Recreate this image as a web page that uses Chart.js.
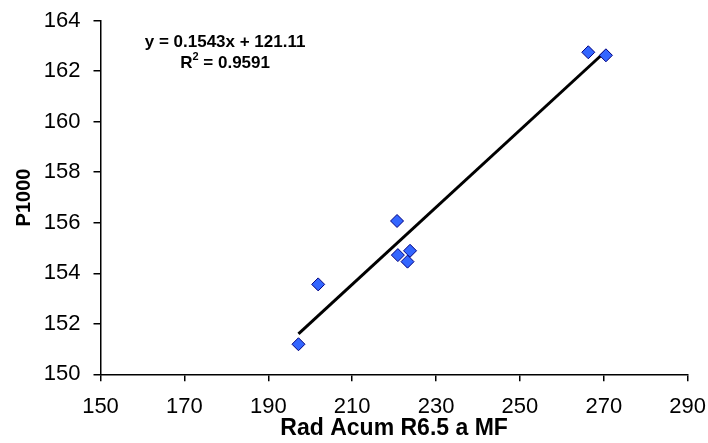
<!DOCTYPE html>
<html>
<head>
<meta charset="utf-8">
<script src="https://cdn.jsdelivr.net/npm/chart.js"></script>
<style>
  body { margin: 0; background: #fff; }
  canvas { display: block; }
</style>
</head>
<body>
<canvas id="scatterChart" width="708" height="443"></canvas>
<script>
  // values
  const radAcum = [197.2, 201.9, 220.7, 220.9, 223.8, 223.2, 266.3, 270.5];
  const p1000 = [151.19, 153.56, 156.07, 154.72, 154.89, 154.46, 162.75, 162.63];

  // linear trendline end points (as drawn)
  const trendX = [197.2, 270.5];
  const trendY = [151.6, 162.8];

  const xTicks = [150, 170, 190, 210, 230, 250, 270, 290];
  const yTicks = [150, 152, 154, 156, 158, 160, 162, 164];

  const eqLine = "y = 0.1543x + 121.11";
  const r2Value = "0.9591";

  const font = "'Liberation Sans', Arial, sans-serif";

  const points = radAcum.map((x, i) => ({ x: x, y: p1000[i] }));
  const trend = trendX.map((x, i) => ({ x: x, y: trendY[i] }));

  // equation label, drawn after the datasets
  const equationLabel = {
    id: "equationLabel",
    afterDraw(chart) {
      const ctx = chart.ctx;
      const xs = chart.scales.x;
      const ys = chart.scales.y;
      const cx = xs.getPixelForValue(179.7);
      ctx.save();
      ctx.fillStyle = "#000";
      ctx.textBaseline = "middle";
      ctx.font = "bold 17px " + font;
      ctx.textAlign = "center";
      ctx.fillText(eqLine, cx, ys.getPixelForValue(163.15));

      // R² with a raised small 2
      const y2 = ys.getPixelForValue(162.32);
      const partR = "R";
      const partRest = " = " + r2Value;
      const wR = ctx.measureText(partR).width;
      const wRest = ctx.measureText(partRest).width;
      ctx.font = "bold 11px " + font;
      const wSup = ctx.measureText("2").width;
      const total = wR + wSup + wRest;
      const x0 = cx - total / 2;
      ctx.textAlign = "left";
      ctx.font = "bold 17px " + font;
      ctx.fillText(partR, x0, y2);
      ctx.font = "bold 11px " + font;
      ctx.fillText("2", x0 + wR, y2 - 6);
      ctx.font = "bold 17px " + font;
      ctx.fillText(partRest, x0 + wR + wSup, y2);
      ctx.restore();
    }
  };

  new Chart(document.getElementById("scatterChart").getContext("2d"), {
    type: "scatter",
    data: {
      datasets: [
        {
          label: "P1000",
          data: points,
          pointStyle: "rectRot",
          pointRadius: 6.5,
          pointHoverRadius: 6.5,
          backgroundColor: "#3366ff",
          borderColor: "#000080",
          borderWidth: 1
        },
        {
          type: "line",
          label: "Trend",
          data: trend,
          borderColor: "#000",
          borderWidth: 3,
          pointRadius: 0,
          fill: false,
          tension: 0
        }
      ]
    },
    options: {
      responsive: false,
      animation: false,
      layout: { padding: { top: 20.7, right: 20.3, left: 0, bottom: 0 } },
      plugins: {
        legend: { display: false },
        tooltip: { enabled: false }
      },
      scales: {
        x: {
          type: "linear",
          min: xTicks[0],
          max: xTicks[xTicks.length - 1],
          afterBuildTicks(scale) { scale.ticks = xTicks.map(v => ({ value: v })); },
          afterFit(scale) {
            scale.height = 68.7;
            scale.paddingLeft = 0;
            scale.paddingRight = 0;
          },
          grid: { drawOnChartArea: false, drawTicks: true, tickLength: 7, color: "#000", lineWidth: 1.5 },
          border: { display: true, color: "#000", width: 1.5 },
          ticks: { color: "#000", padding: 12, font: { family: font, size: 22 } },
          title: {
            display: true,
            text: "Rad Acum R6.5 a MF",
            color: "#000",
            font: { family: font, size: 23, weight: "bold" },
            padding: { top: 1, bottom: 1 }
          }
        },
        y: {
          type: "linear",
          min: yTicks[0],
          max: yTicks[yTicks.length - 1],
          afterBuildTicks(scale) { scale.ticks = yTicks.map(v => ({ value: v })); },
          afterFit(scale) {
            scale.width = 100.5;
            scale.paddingTop = 0;
            scale.paddingBottom = 0;
          },
          grid: { drawOnChartArea: false, drawTicks: true, tickLength: 7, color: "#000", lineWidth: 1.5 },
          border: { display: true, color: "#000", width: 1.5 },
          ticks: { color: "#000", padding: 13, font: { family: font, size: 22 } },
          title: {
            display: true,
            text: "P1000",
            color: "#000",
            font: { family: font, size: 20, weight: "bold" },
            padding: { top: 12, bottom: 12 }
          }
        }
      }
    },
    plugins: [equationLabel]
  });
</script>
</body>
</html>
